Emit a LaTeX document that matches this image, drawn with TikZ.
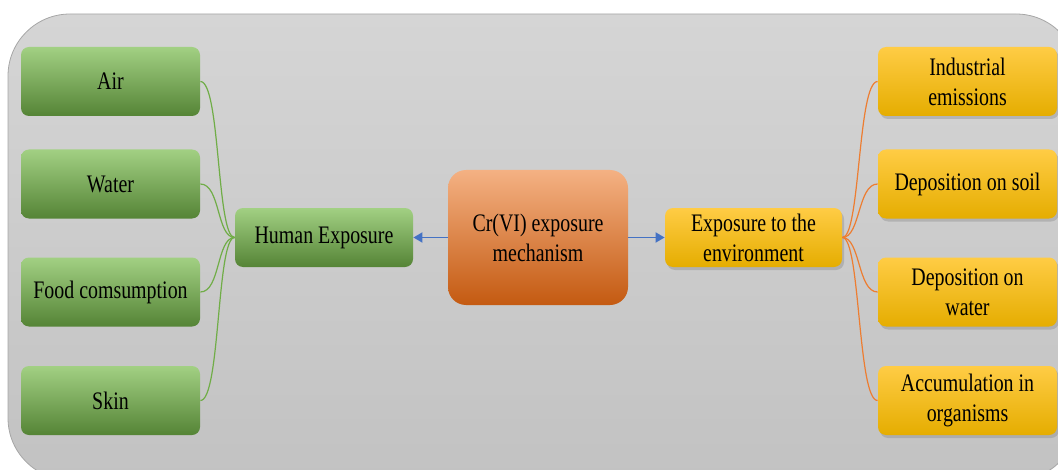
\documentclass[tikz,border=0pt]{standalone}
\usepackage{fontspec}
\setmainfont{Liberation Serif}[FakeStretch=0.79]
\usetikzlibrary{arrows.meta,shadows}

\definecolor{panelTop}{HTML}{D5D5D5}
\definecolor{panelBot}{HTML}{C2C2C2}
\definecolor{panelLine}{HTML}{A6A6A6}
\definecolor{greenTop}{HTML}{A2D083}
\definecolor{greenMid}{HTML}{74B045}
\definecolor{greenBot}{HTML}{558436}
\definecolor{orangeTop}{HTML}{F4B183}
\definecolor{orangeMid}{HTML}{EC7C30}
\definecolor{orangeBot}{HTML}{C45A11}
\definecolor{yellowTop}{HTML}{FFCC45}
\definecolor{yellowMid}{HTML}{FFC000}
\definecolor{yellowBot}{HTML}{E5AD00}
\definecolor{greenLine}{HTML}{70AD47}
\definecolor{orangeLine}{HTML}{ED7D31}
\definecolor{blueLine}{HTML}{4472C4}

\tikzset{
  box/.style={rounded corners=4pt, minimum width=89.5pt, minimum height=34.5pt,
    align=center, inner sep=2pt, font=\fontsize{12.6}{15}\selectfont},
  greenbox/.style={box, top color=greenTop, middle color=greenMid, bottom color=greenBot},
  orangebox/.style={box, rounded corners=9pt, top color=orangeTop, middle color=orangeMid, bottom color=orangeBot},
  yellowbox/.style={box, top color=yellowTop, middle color=yellowMid, bottom color=yellowBot,
    drop shadow={shadow xshift=1pt, shadow yshift=-1.5pt, opacity=0.35}},
  greenlink/.style={greenLine, line width=0.6pt},
  orangelink/.style={orangeLine, line width=0.6pt},
  bluearrow/.style={blueLine, line width=0.9pt, -{Triangle[length=4.5pt,width=5pt]}}
}

\begin{document}
\begin{tikzpicture}[x=0.5pt,y=-0.5pt]
  \useasboundingbox (0,0) rectangle (1058,470);
  \clip (0,0) rectangle (1058,470);

  % Background panel
  \path[top color=panelTop, bottom color=panelBot, draw=panelLine, rounded corners=31pt]
    (8,14) rectangle (1078,480);

  % Middle row
  \node[orangebox, minimum width=90pt, minimum height=67.5pt] (cr) at (538,237.5) {Cr(VI) exposure\\mechanism};
  \node[greenbox, minimum width=89pt, minimum height=29.5pt] (human) at (324,237.5) {Human Exposure};
  \node[yellowbox, minimum width=88.5pt, minimum height=29.5pt] (env) at (753.5,237.5) {Exposure to the\\environment};

  % Human exposure routes
  \node[greenbox] (air) at (110.5,81.5) {Air};
  \node[greenbox] (water) at (110.5,184) {Water};
  \node[greenbox] (food) at (110.5,292) {Food comsumption};
  \node[greenbox] (skin) at (110.5,400.5) {Skin};

  % Environmental routes
  \node[yellowbox] (ind) at (967.5,81.5) {Industrial\\emissions};
  \node[yellowbox] (soil) at (967.5,184) {Deposition on soil};
  \node[yellowbox] (wat) at (967.5,292) {Deposition on\\water};
  \node[yellowbox] (org) at (967.5,400.5) {Accumulation in\\organisms};

  % Links
  \draw[greenlink] (air.east) .. controls +(20,0) and +(-18,0) .. (human.west);
  \draw[greenlink] (water.east) .. controls +(20,0) and +(-18,0) .. (human.west);
  \draw[greenlink] (food.east) .. controls +(20,0) and +(-18,0) .. (human.west);
  \draw[greenlink] (skin.east) .. controls +(20,0) and +(-18,0) .. (human.west);

  \draw[orangelink] (env.east) .. controls +(18,0) and +(-20,0) .. (ind.west);
  \draw[orangelink] (env.east) .. controls +(18,0) and +(-20,0) .. (soil.west);
  \draw[orangelink] (env.east) .. controls +(18,0) and +(-20,0) .. (wat.west);
  \draw[orangelink] (env.east) .. controls +(18,0) and +(-20,0) .. (org.west);

  % Arrows
  \draw[bluearrow] (cr.west) -- (human.east);
  \draw[bluearrow] (cr.east) -- (env.west);
\end{tikzpicture}
\end{document}
